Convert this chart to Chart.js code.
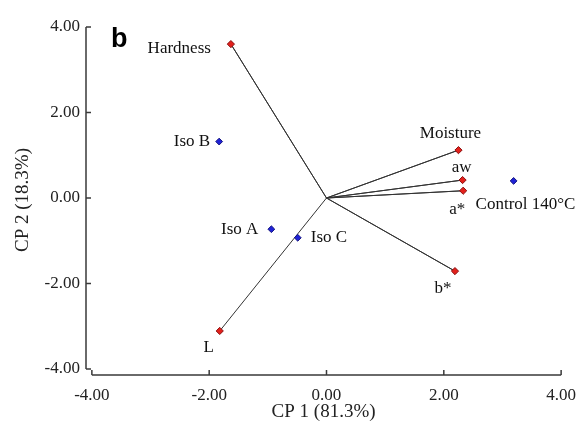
<!DOCTYPE html>
<html>
<head>
<meta charset="utf-8">
<script src="https://cdn.jsdelivr.net/npm/chart.js@4.4.0/dist/chart.umd.min.js"></script>
<style>
  html, body { margin: 0; padding: 0; background: #fff; }
  #wrap { width: 586px; height: 428px; }
</style>
</head>
<body>
<div id="wrap"><canvas id="pca"></canvas></div>
<script>
// loadings (variables)
const varNames = ['Hardness', 'Moisture', 'aw', 'a*', 'b*', 'L'];
const varX = [-1.63, 2.25, 2.32, 2.33, 2.19, -1.82];
const varY = [3.60, 1.12, 0.42, 0.17, -1.71, -3.11];

// scores (samples)
const sampleNames = ['Iso B', 'Iso A', 'Iso C', 'Control 140°C'];
const sampleX = [-1.83, -0.94, -0.49, 3.19];
const sampleY = [1.32, -0.73, -0.93, 0.40];

const tickValues = [-4, -2, 0, 2, 4];

// label placement relative to the marker (px), kept apart from the data
const varLabelPos = [
  { dx: -20, dy: 4, align: 'right' },
  { dx: -8, dy: -17, align: 'center' },
  { dx: -1, dy: -13, align: 'center' },
  { dx: -6, dy: 19, align: 'center' },
  { dx: -12, dy: 17, align: 'center' },
  { dx: -11, dy: 17, align: 'center' },
];
const sampleLabelPos = [
  { dx: -9, dy: 0, align: 'right' },
  { dx: -13, dy: 0, align: 'right' },
  { dx: 13, dy: 0, align: 'left' },
  { dx: -38, dy: 24, align: 'left' },
];

const serif = '"Liberation Serif", "Times New Roman", serif';
const axisColor = '#3a3a3a';

function toPoints(xs, ys) {
  return xs.map((x, i) => ({ x: x, y: ys[i] }));
}

let vectorPath = [];
varX.forEach((x, i) => {
  vectorPath.push({ x: 0, y: 0 });
  vectorPath.push({ x: x, y: varY[i] });
});

const biplotDecor = {
  id: 'biplotDecor',
  afterDraw(chart) {
    const ctx = chart.ctx;
    const xs = chart.scales.x;
    const ys = chart.scales.y;
    const left = chart.chartArea.left;
    const bottom = chart.chartArea.bottom;

    ctx.save();
    // axes with inward ticks, not joined at the corner
    ctx.strokeStyle = axisColor;
    ctx.lineWidth = 1.5;
    ctx.beginPath();
    ctx.moveTo(left, ys.getPixelForValue(4));
    ctx.lineTo(left, ys.getPixelForValue(-4));
    ctx.moveTo(xs.getPixelForValue(-4), bottom);
    ctx.lineTo(xs.getPixelForValue(4), bottom);
    tickValues.forEach(v => {
      const py = ys.getPixelForValue(v);
      ctx.moveTo(left, py);
      ctx.lineTo(left + 5, py);
      const px = xs.getPixelForValue(v);
      ctx.moveTo(px, bottom);
      ctx.lineTo(px, bottom - 5);
    });
    ctx.stroke();

    // point labels
    ctx.fillStyle = '#111';
    ctx.font = '17px ' + serif;
    ctx.textBaseline = 'middle';
    varNames.forEach((name, i) => {
      const p = varLabelPos[i];
      ctx.textAlign = p.align;
      ctx.fillText(name, xs.getPixelForValue(varX[i]) + p.dx, ys.getPixelForValue(varY[i]) + p.dy);
    });
    sampleNames.forEach((name, i) => {
      const p = sampleLabelPos[i];
      ctx.textAlign = p.align;
      ctx.fillText(name, xs.getPixelForValue(sampleX[i]) + p.dx, ys.getPixelForValue(sampleY[i]) + p.dy);
    });

    // panel letter
    ctx.fillStyle = '#000';
    ctx.font = 'bold 27px "Liberation Sans", Arial, sans-serif';
    ctx.textAlign = 'left';
    ctx.textBaseline = 'alphabetic';
    ctx.fillText('b', 111, 47);

    // y axis title
    ctx.fillStyle = '#222';
    ctx.font = '19px ' + serif;
    ctx.textAlign = 'center';
    ctx.textBaseline = 'middle';
    ctx.translate(23, 200);
    ctx.rotate(-Math.PI / 2);
    ctx.fillText('CP 2 (18.3%)', 0, 0);
    ctx.restore();
  },
};

new Chart(document.getElementById('pca'), {
  type: 'scatter',
  data: {
    datasets: [
      {
        label: 'Variables',
        data: toPoints(varX, varY),
        pointStyle: 'rectRot',
        pointRadius: 3.6,
        backgroundColor: '#e3201b',
        borderColor: '#8a1010',
        borderWidth: 1,
      },
      {
        label: 'Samples',
        data: toPoints(sampleX, sampleY),
        pointStyle: 'rectRot',
        pointRadius: 3.4,
        backgroundColor: '#1f22d6',
        borderColor: '#141480',
        borderWidth: 1,
      },
      {
        label: 'Vectors',
        data: vectorPath,
        showLine: true,
        pointRadius: 0,
        borderColor: '#333',
        borderWidth: 1,
      },
    ],
  },
  options: {
    responsive: true,
    maintainAspectRatio: false,
    animation: false,
    layout: {
      padding: { top: 27, right: 22, left: 0, bottom: 0 },
    },
    scales: {
      x: {
        type: 'linear',
        min: -4.1,
        max: 4,
        grid: { display: false, drawTicks: false },
        border: { display: false },
        afterBuildTicks: (scale) => {
          scale.ticks = tickValues.map(v => ({ value: v }));
        },
        afterFit: (scale) => {
          scale.height = 53;
        },
        ticks: {
          padding: 10,
          color: '#222',
          font: { family: serif, size: 17 },
          callback: (v) => v.toFixed(2),
        },
        title: {
          display: true,
          text: 'CP 1 (81.3%)',
          color: '#222',
          font: { family: serif, size: 19 },
          padding: { top: 0, bottom: 5 },
        },
      },
      y: {
        type: 'linear',
        min: -4.14,
        max: 4,
        grid: { display: false, drawTicks: false },
        border: { display: false },
        afterBuildTicks: (scale) => {
          scale.ticks = tickValues.map(v => ({ value: v }));
        },
        afterFit: (scale) => {
          scale.width = 86;
        },
        ticks: {
          padding: 6,
          color: '#222',
          font: { family: serif, size: 17 },
          callback: (v) => v.toFixed(2),
        },
      },
    },
    plugins: {
      legend: { display: false },
      tooltip: { enabled: false },
    },
  },
  plugins: [biplotDecor],
});
</script>
</body>
</html>
